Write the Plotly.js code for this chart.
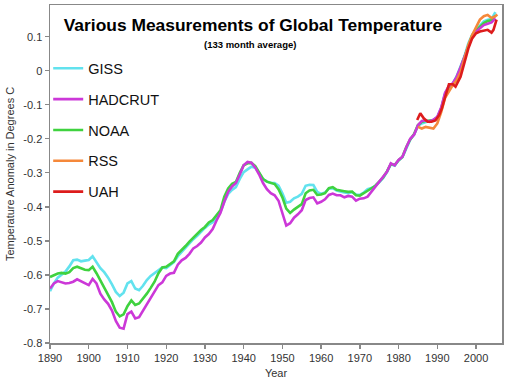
<!DOCTYPE html>
<html>
<head>
<meta charset="utf-8">
<script src="https://cdn.plot.ly/plotly-3.0.1.min.js"></script>
<style>html,body{margin:0;padding:0;background:#fff;}#chart{width:519px;height:385px;}</style>
</head>
<body>
<div id="chart"></div>
<script>
// Surface records: yearly points (133-month running means) 1890-2005
var surfYears = [];
for (var yr = 1890; yr <= 2005; yr++) surfYears.push(yr);

var gissVals = [
-0.648,-0.625,-0.608,-0.598,-0.590,-0.575,-0.557,-0.555,-0.560,-0.558,
-0.556,-0.545,-0.562,-0.580,-0.592,-0.608,-0.628,-0.650,-0.662,-0.652,
-0.625,-0.618,-0.640,-0.645,-0.632,-0.615,-0.603,-0.594,-0.585,-0.578,
-0.580,-0.572,-0.562,-0.545,-0.532,-0.520,-0.508,-0.495,-0.485,-0.472,
-0.462,-0.452,-0.445,-0.432,-0.415,-0.385,-0.362,-0.350,-0.342,-0.318,
-0.298,-0.290,-0.282,-0.285,-0.300,-0.318,-0.326,-0.330,-0.330,-0.338,
-0.360,-0.388,-0.385,-0.375,-0.370,-0.362,-0.338,-0.335,-0.336,-0.356,
-0.362,-0.358,-0.346,-0.345,-0.352,-0.356,-0.358,-0.360,-0.357,-0.364,
-0.365,-0.358,-0.348,-0.345,-0.338,-0.328,-0.316,-0.298,-0.275,-0.279,
-0.264,-0.254,-0.226,-0.203,-0.188,-0.162,-0.155,-0.150,-0.147,-0.145,
-0.136,-0.110,-0.068,-0.046,-0.038,-0.016,0.012,0.042,0.080,0.106,
0.120,0.132,0.145,0.150,0.152,0.172
];

var hadcrutVals = [
-0.640,-0.625,-0.618,-0.622,-0.625,-0.624,-0.620,-0.613,-0.618,-0.624,
-0.630,-0.612,-0.625,-0.655,-0.672,-0.685,-0.705,-0.735,-0.755,-0.758,
-0.715,-0.708,-0.728,-0.724,-0.705,-0.684,-0.665,-0.645,-0.630,-0.622,
-0.603,-0.596,-0.594,-0.570,-0.557,-0.550,-0.538,-0.522,-0.515,-0.505,
-0.490,-0.480,-0.465,-0.440,-0.418,-0.385,-0.356,-0.340,-0.330,-0.305,
-0.278,-0.268,-0.270,-0.285,-0.305,-0.330,-0.348,-0.360,-0.366,-0.382,
-0.420,-0.455,-0.448,-0.432,-0.422,-0.410,-0.380,-0.374,-0.372,-0.390,
-0.385,-0.378,-0.365,-0.361,-0.366,-0.366,-0.372,-0.368,-0.370,-0.382,
-0.376,-0.375,-0.370,-0.356,-0.340,-0.326,-0.314,-0.297,-0.272,-0.278,
-0.262,-0.253,-0.225,-0.200,-0.188,-0.160,-0.148,-0.146,-0.150,-0.144,
-0.135,-0.108,-0.065,-0.045,-0.037,-0.018,0.010,0.040,0.075,0.100,
0.115,0.125,0.134,0.138,0.142,0.154
];

var noaaVals = [
-0.606,-0.600,-0.596,-0.594,-0.596,-0.592,-0.580,-0.576,-0.580,-0.585,
-0.586,-0.576,-0.595,-0.616,-0.636,-0.655,-0.680,-0.708,-0.722,-0.716,
-0.692,-0.675,-0.688,-0.684,-0.670,-0.655,-0.638,-0.620,-0.595,-0.578,
-0.576,-0.567,-0.560,-0.538,-0.527,-0.515,-0.502,-0.490,-0.480,-0.468,
-0.459,-0.446,-0.439,-0.425,-0.410,-0.370,-0.346,-0.332,-0.327,-0.300,
-0.278,-0.272,-0.271,-0.280,-0.300,-0.318,-0.326,-0.330,-0.333,-0.348,
-0.372,-0.405,-0.418,-0.408,-0.400,-0.392,-0.360,-0.352,-0.350,-0.365,
-0.364,-0.360,-0.345,-0.342,-0.350,-0.351,-0.354,-0.356,-0.355,-0.366,
-0.367,-0.360,-0.352,-0.345,-0.338,-0.326,-0.314,-0.296,-0.274,-0.277,
-0.263,-0.253,-0.224,-0.202,-0.186,-0.160,-0.150,-0.148,-0.148,-0.146,
-0.138,-0.112,-0.070,-0.048,-0.040,-0.020,0.008,0.040,0.078,0.104,
0.118,0.130,0.140,0.146,0.148,0.162
];

// Satellite records
var rssYears = [1985,1986,1987,1988,1989,1990,1991,1992,1993,1994,1995,1996,1997,1998,1999,2000,2001,2002,2003,2004,2005,2005.5];
var rssVals  = [-0.165,-0.170,-0.165,-0.168,-0.170,-0.155,-0.122,-0.080,-0.060,-0.042,-0.028,-0.005,0.035,0.075,0.105,0.130,0.150,0.160,0.164,0.155,0.160,0.165];

var uahYears = [1984.8,1985.6,1986.5,1987.5,1988.5,1989.5,1990.5,1991.2,1992,1993,1994,1994.7,1996,1997,1998,1999,2000,2001,2002,2003,2004,2004.5,2005.3];
var uahVals  = [-0.145,-0.125,-0.140,-0.150,-0.150,-0.146,-0.130,-0.110,-0.078,-0.040,-0.040,-0.047,-0.018,0.020,0.065,0.095,0.110,0.115,0.118,0.120,0.112,0.120,0.150];

var xTicks = [1890,1900,1910,1920,1930,1940,1950,1960,1970,1980,1990,2000];
var yTicks = [-0.8,-0.7,-0.6,-0.5,-0.4,-0.3,-0.2,-0.1,0,0.1];
var yTickText = ['-0.8','-0.7','-0.6','-0.5','-0.4','-0.3','-0.2','-0.1','0','0.1'];

function mk(name, x, y, color, rank) {
  return {type:'scatter', mode:'lines', name:name, x:x, y:y,
          line:{color:color, width:2.6},
          legendgroup:name, legendrank:rank, hoverinfo:'skip'};
}

var data = [
  mk('GISS', surfYears, gissVals, '#62e2ee', 1),
  mk('NOAA', surfYears, noaaVals, '#3fd23f', 3),
  mk('HADCRUT', surfYears, hadcrutVals, '#cc38d8', 2),
  mk('RSS', rssYears, rssVals, '#f5883a', 4),
  mk('UAH', uahYears, uahVals, '#dd1c1c', 5)
];

var axisFont = {family:'Liberation Sans, Arial, sans-serif', size:11, color:'#333'};

var layout = {
  width:519, height:385,
  margin:{l:50, r:17, t:5, b:42},
  paper_bgcolor:'#fff', plot_bgcolor:'#fff',
  showlegend:true,
  legend:{x:-0.004, xanchor:'left', y:0.86, yanchor:'top',
          font:{family:'Liberation Sans, Arial, sans-serif', size:14.5, color:'#111'},
          traceorder:'grouped', tracegroupgap:9, bgcolor:'rgba(0,0,0,0)'},
  title:{text:'<b>Various Measurements of Global Temperature</b>',
         font:{family:'Liberation Sans, Arial, sans-serif', size:17.4, color:'#000'},
         x:253/519, xanchor:'center', y:1-25/385, yanchor:'middle'},
  annotations:[{text:'<b>(133 month average)</b>', xref:'paper', yref:'paper',
                x:(249.5-50)/452, y:(343-44)/338, xanchor:'center', yanchor:'middle',
                showarrow:false, font:{family:'Liberation Sans, Arial, sans-serif', size:9.5, color:'#000'}}],
  xaxis:{range:[1890, 2006.7], tickvals:xTicks, ticktext:xTicks.map(String),
         ticks:'outside', ticklen:4, tickcolor:'#888', tickwidth:1.3,
         showline:true, linecolor:'#888', linewidth:1.5, mirror:true,
         showgrid:false, zeroline:false, tickfont:axisFont,
         title:{text:'Year', font:axisFont, standoff:6}},
  yaxis:{range:[-0.8, 0.193], tickvals:yTicks, ticktext:yTickText,
         ticks:'outside', ticklen:4, tickcolor:'#888', tickwidth:1.3,
         showline:true, linecolor:'#888', linewidth:1.5, mirror:true,
         showgrid:false, zeroline:false, tickfont:axisFont,
         title:{text:'Temperature Anomaly in Degrees C', font:axisFont, standoff:6}}
};

Plotly.newPlot('chart', data, layout, {displayModeBar:false, staticPlot:true});
</script>
</body>
</html>
